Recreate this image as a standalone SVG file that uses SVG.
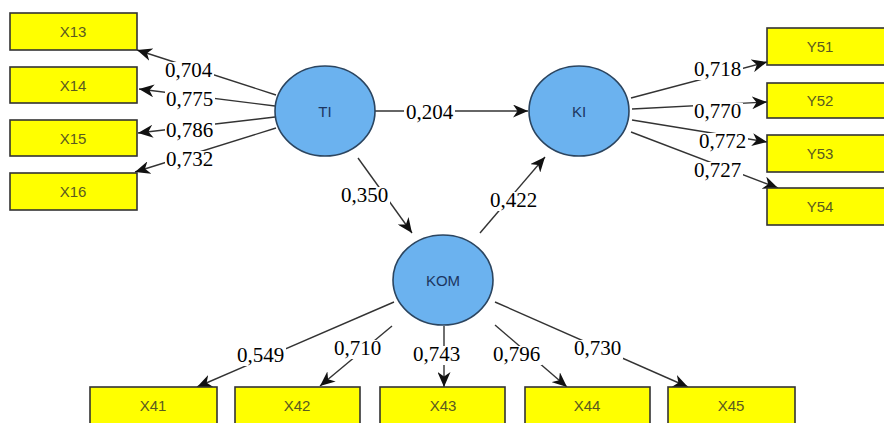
<svg xmlns="http://www.w3.org/2000/svg" width="884" height="423" viewBox="0 0 884 423">
<style>
.box rect{fill:#ffff00;stroke:#333;stroke-width:1.6}
.box text{font-family:"Liberation Sans",Arial,sans-serif;font-size:15px;fill:#5a5a20;text-anchor:middle}
.lv ellipse{fill:#6bb2ef;stroke:#2b4560;stroke-width:1.6}
.lv text{font-family:"Liberation Sans",Arial,sans-serif;font-size:15px;fill:#1c3560;text-anchor:middle}
.con line{stroke:#333;stroke-width:1.4;marker-end:url(#ah)}
.con rect{fill:#fff}
.con text{font-family:"Liberation Serif","Times New Roman",serif;font-size:21px;fill:#000}
</style>
<defs>
<marker id="ah" markerUnits="userSpaceOnUse" markerWidth="17" markerHeight="13" refX="15" refY="6.5" orient="auto">
<path d="M0,0 L15,6.5 L0,13 L4.5,6.5 z" fill="#111"/>
</marker>
</defs>
<rect width="884" height="423" fill="#fff"/>
<g class="con" id="connectors">
<line x1="276" y1="95" x2="137" y2="50"/>
<line x1="275" y1="106" x2="139" y2="89"/>
<line x1="275" y1="117" x2="138" y2="133"/>
<line x1="276" y1="128" x2="135" y2="172"/>
<line x1="375" y1="111" x2="528" y2="111"/>
<line x1="358" y1="158" x2="412" y2="233"/>
<line x1="480" y1="233" x2="545" y2="157"/>
<line x1="631" y1="98" x2="767" y2="62"/>
<line x1="632" y1="109" x2="767" y2="102"/>
<line x1="632" y1="120" x2="767" y2="142"/>
<line x1="631" y1="132" x2="778" y2="188"/>
<line x1="394" y1="302" x2="197" y2="387"/>
<line x1="392" y1="326" x2="320" y2="386"/>
<line x1="444" y1="326" x2="444" y2="387"/>
<line x1="495" y1="325" x2="567" y2="387"/>
<line x1="495" y1="302" x2="688" y2="387"/>
<rect x="164" y="62" width="50" height="19"/><text x="165" y="77">0,704</text>
<rect x="165" y="91" width="50" height="19"/><text x="166" y="106">0,775</text>
<rect x="165" y="122" width="50" height="19"/><text x="166" y="137">0,786</text>
<rect x="165" y="151" width="50" height="19"/><text x="166" y="166">0,732</text>
<rect x="404" y="104" width="51" height="19"/><text x="406" y="119">0,204</text>
<rect x="340" y="187" width="50" height="19"/><text x="341" y="202">0,350</text>
<rect x="489" y="192" width="50" height="19"/><text x="490" y="207">0,422</text>
<rect x="693" y="61" width="50" height="19"/><text x="694" y="76">0,718</text>
<rect x="693" y="103" width="50" height="19"/><text x="694" y="118">0,770</text>
<rect x="698" y="133" width="50" height="19"/><text x="699" y="148">0,772</text>
<rect x="693" y="162" width="50" height="19"/><text x="694" y="177">0,727</text>
<rect x="236" y="347" width="50" height="19"/><text x="237" y="362">0,549</text>
<rect x="333" y="340" width="50" height="19"/><text x="334" y="355">0,710</text>
<rect x="412" y="346" width="50" height="19"/><text x="413" y="361">0,743</text>
<rect x="492" y="346" width="50" height="19"/><text x="493" y="361">0,796</text>
<rect x="573" y="340" width="50" height="19"/><text x="574" y="355">0,730</text>
</g>
<g class="lv" id="TI"><ellipse cx="325" cy="111" rx="50" ry="45"/><text x="325" y="117">TI</text></g>
<g class="lv" id="KI"><ellipse cx="579" cy="111" rx="50" ry="45"/><text x="579" y="117">KI</text></g>
<g class="lv" id="KOM"><ellipse cx="443" cy="280" rx="50" ry="45"/><text x="443" y="286">KOM</text></g>
<g class="box" id="X13"><rect x="10" y="13" width="127" height="37"/><text x="73" y="37">X13</text></g>
<g class="box" id="X14"><rect x="10" y="67" width="127" height="36"/><text x="73" y="91">X14</text></g>
<g class="box" id="X15"><rect x="10" y="120" width="127" height="36"/><text x="73" y="144">X15</text></g>
<g class="box" id="X16"><rect x="10" y="173" width="127" height="37"/><text x="73" y="197">X16</text></g>
<g class="box" id="Y51"><rect x="767" y="28" width="130" height="37"/><text x="820" y="52">Y51</text></g>
<g class="box" id="Y52"><rect x="767" y="83" width="130" height="35"/><text x="820" y="106">Y52</text></g>
<g class="box" id="Y53"><rect x="767" y="135" width="130" height="37"/><text x="820" y="159">Y53</text></g>
<g class="box" id="Y54"><rect x="767" y="188" width="130" height="37"/><text x="820" y="212">Y54</text></g>
<g class="box" id="X41"><rect x="90" y="387" width="127" height="45"/><text x="153" y="411">X41</text></g>
<g class="box" id="X42"><rect x="235" y="387" width="125" height="45"/><text x="297" y="411">X42</text></g>
<g class="box" id="X43"><rect x="380" y="387" width="125" height="45"/><text x="443" y="411">X43</text></g>
<g class="box" id="X44"><rect x="525" y="387" width="125" height="45"/><text x="587" y="411">X44</text></g>
<g class="box" id="X45"><rect x="668" y="387" width="127" height="45"/><text x="731" y="411">X45</text></g>
</svg>
